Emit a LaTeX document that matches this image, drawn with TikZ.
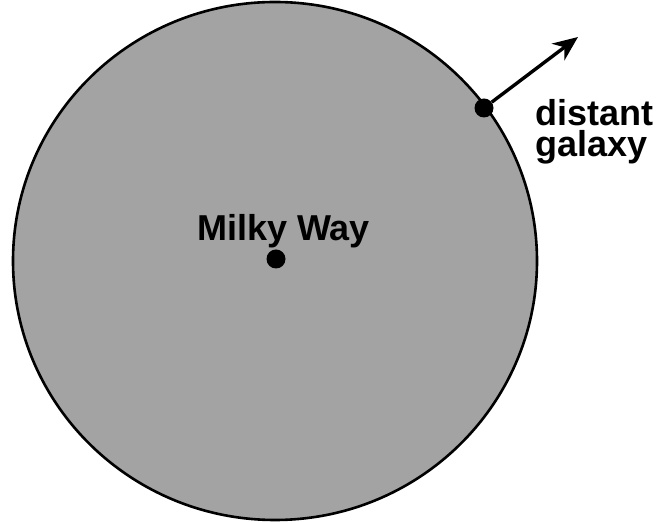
\documentclass[tikz,border=0pt]{standalone}
\usepackage{fontspec}
\setmainfont{Liberation Sans}
\usetikzlibrary{arrows.meta}
\begin{document}
\begin{tikzpicture}[x=1pt,y=1pt,
  lbl/.style={inner sep=0pt,font=\fontsize{36}{33}\selectfont\bfseries},
  dotmark/.style={circle,fill=black,inner sep=0pt,minimum size=19pt}]
\useasboundingbox (0,0) rectangle (657,522);
\draw[line width=2.6pt,fill=black!36] (275,261) ellipse [x radius=262, y radius=259];
\node[dotmark] (mw) at (276,263) {};
\node[dotmark] (dg) at (484,414) {};
\coordinate (tip) at (578,485);
\draw[line width=3.4pt,-{Stealth[length=25pt,width=21pt,inset=8pt]}] (dg) -- (tip);
\node[lbl,anchor=base west] (mwl) at (197,281) {Milky Way};
\node[lbl,anchor=base west] (dgl) at (535,396) {distant};
\node[lbl,anchor=base west] (dgl2) at (535,365) {galaxy};
\end{tikzpicture}
\end{document}
